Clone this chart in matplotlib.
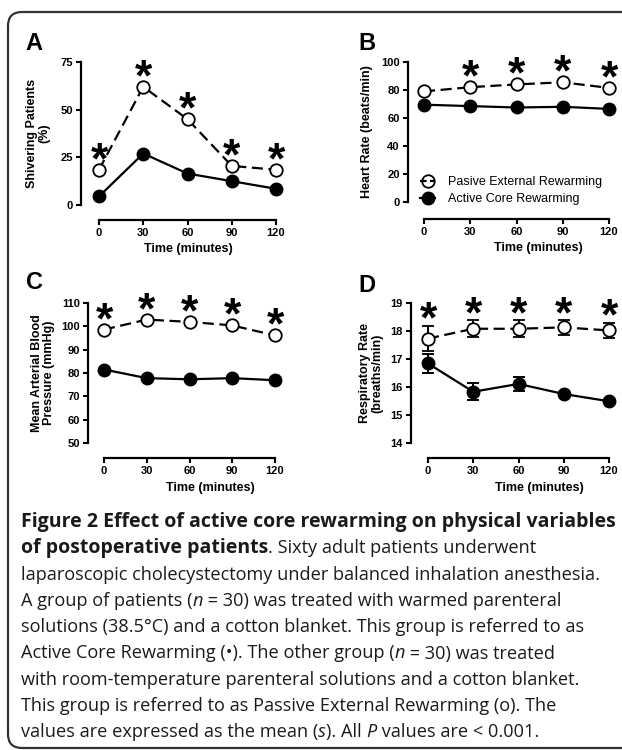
import matplotlib
matplotlib.use("Agg")
import matplotlib.pyplot as plt
from matplotlib.lines import Line2D
from matplotlib.patches import FancyBboxPatch
from matplotlib.transforms import IdentityTransform

W, H = 622, 750
DPI = 100

time = [0, 30, 60, 90, 120]

shiv_passive = [18.5, 62, 45, 20.5, 18.5]
shiv_active = [4.5, 27, 16.5, 12.5, 8.5]
shiv_star = [1, 1, 1, 1, 1]

hr_passive = [79, 82, 84, 85.5, 81.5]
hr_active = [69.5, 68.5, 67.5, 68, 66.5]
hr_star = [0, 1, 1, 1, 1]

map_passive = [98.6, 102.9, 101.9, 100.4, 96.1]
map_active = [81.5, 77.8, 77.3, 77.8, 76.9]
map_star = [1, 1, 1, 1, 1]

rr_passive = [17.73, 18.08, 18.08, 18.13, 18.02]
rr_passive_err = [0.45, 0.31, 0.3, 0.26, 0.27]
rr_active = [16.84, 15.83, 16.11, 15.75, 15.49]
rr_active_err = [0.33, 0.3, 0.25, 0.08, 0.05]
rr_star = [1, 1, 1, 1, 1]

plt.rcParams["font.family"] = ["Liberation Sans", "DejaVu Sans"]

fig = plt.figure(figsize=(W / DPI, H / DPI), dpi=DPI)

DASH = (0, (5, 2.5))


def make_axes(x0, x120, ysp, v0, p0, v1, p1, xsp, ticks, ylabel, ylab_x, xlab_c, xlab_top):
    # everything here in pixels measured from the top-left of the image
    kx = (x120 - x0) / 120.0
    xr = x120 + 8
    ky = (p0 - p1) / float(v1 - v0)
    yt = p1 - 8
    ax = fig.add_axes([ysp / W, 1 - xsp / H, (xr - ysp) / W, (xsp - yt) / H])
    ax.set_xlim((ysp - x0) / kx, (xr - x0) / kx)
    ax.set_ylim(v0 - (xsp - p0) / ky, v1 + (p1 - yt) / ky)
    for s in ["top", "right"]:
        ax.spines[s].set_visible(False)
    ax.spines["left"].set_bounds(ticks[0], ticks[-1])
    ax.spines["bottom"].set_bounds(0, 120)
    for s in ["left", "bottom"]:
        ax.spines[s].set_linewidth(1.6)
    ax.set_xticks(time)
    ax.set_yticks(ticks)
    ax.tick_params(direction="out", length=3.5, width=1.5, labelsize=8, pad=2.5)
    for lab in ax.get_xticklabels() + ax.get_yticklabels():
        lab.set_fontweight("bold")
    ax.set_ylabel(ylabel, fontsize=9, fontweight="bold", linespacing=1.0)
    ax.set_xlabel("Time (minutes)", fontsize=9, fontweight="bold")
    ax.yaxis.set_label_coords((ylab_x - ysp) / (xr - ysp), (xsp - (p0 + p1) / 2) / (xsp - yt))
    ax.xaxis.set_label_coords((xlab_c - ysp) / (xr - ysp), (xsp - xlab_top) / (xsp - yt))
    return ax


def draw(ax, passive, active, stars, perr=None, aerr=None):
    ax.errorbar(time, active, yerr=aerr, color="black", lw=1.6, marker="o", ms=9,
                mfc="black", mec="black", capsize=4.5, elinewidth=1.4, capthick=1.4,
                clip_on=False, zorder=3)
    ax.errorbar(time, passive, yerr=perr, color="black", lw=1.6, ls=DASH,
                marker="o", ms=9, mfc="white", mec="black", mew=1.3, capsize=4.5,
                elinewidth=1.4, capthick=1.4, clip_on=False, zorder=4)
    top = passive if perr is None else [v + e for v, e in zip(passive, perr)]
    off = -2.5 if perr is None else -5
    for t, v, s in zip(time, top, stars):
        if s:
            ax.annotate("*", xy=(t, v), xytext=(0, off), textcoords="offset points",
                        ha="center", va="baseline", fontsize=32, fontweight="bold",
                        annotation_clip=False)


axA = make_axes(99, 276, 81, 0, 205, 75, 62, 220, [0, 25, 50, 75],
                "Shivering Patients\n(%)", 50, 188, 243)
draw(axA, shiv_passive, shiv_active, shiv_star)

axB = make_axes(424, 609, 408, 0, 202, 100, 62, 219, [0, 20, 40, 60, 80, 100],
                "Heart Rate (beats/min)", 373, 538, 242)
draw(axB, hr_passive, hr_active, hr_star)

axC = make_axes(104, 275, 88, 50, 443, 110, 303, 458, [50, 60, 70, 80, 90, 100, 110],
                "Mean Arterial Blood\nPressure (mmHg)", 55, 210, 482)
draw(axC, map_passive, map_active, map_star)

axD = make_axes(428, 609, 411, 14, 443, 19, 303, 458, [14, 15, 16, 17, 18, 19],
                "Respiratory Rate\n(breaths/min)", 383, 539, 482)
draw(axD, rr_passive, rr_active, rr_star, rr_passive_err, rr_active_err)

handles = [
    Line2D([], [], color="black", lw=1.6, ls=(0, (3, 1.5)), marker="o", ms=9,
           mfc="none", mec="black", mew=1.3),
    Line2D([], [], color="black", lw=1.6, marker="o", ms=9, mfc="black"),
]
fig.legend(handles, ["Pasive External Rewarming", "Active Core Rewarming"],
           loc="upper left", bbox_to_anchor=(420 / W, 1 - 176 / H), frameon=False,
           fontsize=9, handlelength=1.2, handletextpad=1.0, labelspacing=0.4,
           borderpad=0, borderaxespad=0)

# panel letters
for letter, (x, y) in zip("ABCD", [(25, 50), (358, 50), (26, 289), (358, 292)]):
    fig.text(x / W, 1 - y / H, letter, fontsize=17, fontweight="bold", va="baseline")

# rounded frame around the whole figure, right side runs off the image
frame = FancyBboxPatch((8, 2), 760, 736, boxstyle="round,pad=0,rounding_size=14",
                       transform=IdentityTransform(), fill=False, lw=1.6, ec="#333333")
fig.patches.append(frame)

# caption with mixed bold / italic runs
caption = [
    [("Figure 2 Effect of active core rewarming on physical variables", "bold", "normal")],
    [("of postoperative patients", "bold", "normal"),
     (". Sixty adult patients underwent", "normal", "normal")],
    [("laparoscopic cholecystectomy under balanced inhalation anesthesia.", "normal", "normal")],
    [("A group of patients (", "normal", "normal"), ("n", "normal", "italic"),
     (" = 30) was treated with warmed parenteral", "normal", "normal")],
    [("solutions (38.5°C) and a cotton blanket. This group is referred to as", "normal", "normal")],
    [("Active Core Rewarming (•). The other group (", "normal", "normal"),
     ("n", "normal", "italic"), (" = 30) was treated", "normal", "normal")],
    [("with room-temperature parenteral solutions and a cotton blanket.", "normal", "normal")],
    [("This group is referred to as Passive External Rewarming (o). The", "normal", "normal")],
    [("values are expressed as the mean (", "normal", "normal"), ("s", "normal", "italic"),
     ("). All ", "normal", "normal"), ("P", "normal", "italic"),
     (" values are < 0.001.", "normal", "normal")],
]

fig.canvas.draw()
renderer = fig.canvas.get_renderer()
for i, runs in enumerate(caption):
    x = 21
    y = 527 + 26.3 * i
    for txt, weight, style in runs:
        size = 14 if weight == "bold" else 13.1
        t = fig.text(x / W, 1 - y / H, txt, fontsize=size, family=["Open Sans", "DejaVu Sans"],
                     fontweight=weight, fontstyle=style, va="baseline", ha="left",
                     color="#1a1a1a")
        x += t.get_window_extent(renderer).width

fig.savefig("out.png", dpi=DPI)
